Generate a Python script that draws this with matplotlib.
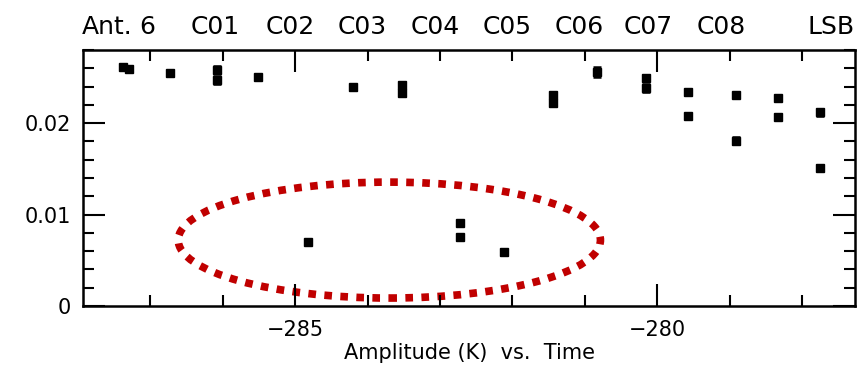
import numpy as np
import matplotlib.pyplot as plt
from matplotlib.patches import Ellipse
from matplotlib.ticker import MultipleLocator

# time (x) and amplitude (y)
TIME = [-287.38, -287.30, -286.73, -286.08, -286.08, -285.51,
        -284.83, -284.20, -283.52, -283.52, -282.72, -282.72,
        -282.11, -281.44, -281.44, -280.83, -280.15, -280.15,
        -279.57, -279.57, -278.91, -278.91, -278.34, -278.34,
        -277.76, -277.76]
AMP = [0.0261, 0.0259, 0.0255, 0.0258, 0.0247, 0.0250,
       0.0070, 0.0239, 0.0242, 0.0233, 0.0091, 0.0075,
       0.0059, 0.0231, 0.0222, 0.0256, 0.0249, 0.0238,
       0.0234, 0.0208, 0.0231, 0.0181, 0.0228, 0.0207,
       0.0212, 0.0151]
ERR = [0.0003, 0.0003, 0.0003, 0.0004, 0.0004, 0.0003,
       0.0002, 0.0003, 0.0003, 0.0003, 0.0002, 0.0003,
       0.0003, 0.0003, 0.0003, 0.0005, 0.0004, 0.0004,
       0.0003, 0.0002, 0.0002, 0.0004, 0.0002, 0.0003,
       0.0004, 0.0003]

TOP_LABELS = ["Ant.", "6", "C01", "C02", "C03", "C04", "C05", "C06", "C07", "C08", "LSB"]
TOP_X = [107, 147, 215, 290, 362, 435, 507, 579, 648, 721, 831]  # pixel centres

W, H = 868, 371
fig = plt.figure(figsize=(W / 100, H / 100), dpi=100)
ax = fig.add_axes([83 / W, 1 - 306 / H, (855 - 83) / W, (306 - 50) / H])

ax.errorbar(TIME, AMP, yerr=ERR, fmt="s", color="black", ms=5.5,
            elinewidth=1.8, capsize=3, capthick=1.8)

ax.set_xlim(-287.93, -277.27)
ax.set_ylim(0, 0.028)
ax.xaxis.set_major_locator(MultipleLocator(5))
ax.xaxis.set_minor_locator(MultipleLocator(1))
ax.yaxis.set_major_locator(MultipleLocator(0.01))
ax.yaxis.set_minor_locator(MultipleLocator(0.002))
ax.set_yticks([0, 0.01, 0.02])
ax.set_yticklabels(["0", "0.01", "0.02"])
ax.tick_params(which="both", direction="in", top=True, right=True,
               width=1.5, labelsize=15)
ax.tick_params(which="major", length=16)
ax.tick_params(which="minor", length=8)
ax.tick_params(axis="y", pad=9)
ax.tick_params(axis="x", pad=10)
for s in ax.spines.values():
    s.set_linewidth(1.8)

ax.set_xlabel("Amplitude (K)  vs.  Time", fontsize=15, labelpad=2)

for lab, px in zip(TOP_LABELS, TOP_X):
    fig.text(px / W, 1 - 27 / H, lab, ha="center", va="center", fontsize=18)

# red dotted highlight
ell = Ellipse((-283.70, 0.00721), 5.83, 0.01268, fill=False,
              edgecolor="#c00000", linewidth=5.5, linestyle=(0, (1, 1.1)),
              clip_on=False)
ax.add_patch(ell)

fig.savefig("out.png", dpi=100)
